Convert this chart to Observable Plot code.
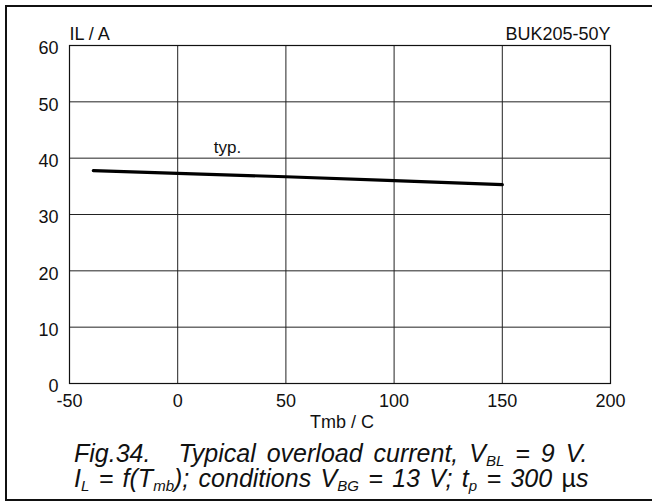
<!DOCTYPE html>
<html><head><meta charset="utf-8">
<script src="https://cdn.jsdelivr.net/npm/d3@7"></script>
<script src="https://cdn.jsdelivr.net/npm/@observablehq/plot@0.6"></script>
<style>
body{margin:0;background:#fff;font-family:"Liberation Sans",Arial,sans-serif;}
#wrap{position:relative;width:652px;height:502px;overflow:hidden;background:#fff;}
#frame{position:absolute;left:5px;top:5px;width:700px;height:492px;border-left:2.5px solid #111;border-top:2.5px solid #111;border-bottom:2.5px solid #111;}
#plot{position:absolute;left:0;top:0;}
.cap{position:absolute;left:74px;font-style:italic;font-size:25px;line-height:24px;white-space:pre;color:#111;}
.cap sub{font-size:0.6em;vertical-align:-0.28em;line-height:0;}
.up{font-style:normal;}
</style>
</head><body>
<div id="wrap">
  <div id="frame"></div>
  <div id="plot"></div>
  <div class="cap" style="top:441px;word-spacing:4px">Fig.34.<span style="display:inline-block;width:28px"></span>Typical overload current, V<sub>BL</sub> = 9 V.</div>
  <div class="cap" style="top:466px;word-spacing:2.4px">I<sub>L</sub> = f(T<sub>mb</sub>); conditions V<sub>BG</sub> = 13 V; t<sub>p</sub> = 300 <span class="up">µ</span>s</div>
</div>
<script>
const temps = [-39, 0, 50, 100, 150];
const currents = [37.8, 37.3, 36.7, 36.0, 35.3];
const xTicks = [-50, 0, 50, 100, 150, 200];
const yTicks = [0, 10, 20, 30, 40, 50, 60];
const yTitle = "IL / A";
const xTitle = "Tmb / C";
const partName = "BUK205-50Y";
const curveLabel = "typ.";

const data = temps.map((t, i) => ({t, i: currents[i]}));
const fmt = d => String(d);

const chart = Plot.plot({
  width: 652,
  height: 440,
  marginLeft: 69,
  marginRight: 42,
  marginTop: 45,
  marginBottom: 57,
  style: {fontFamily: '"Liberation Sans", Arial, sans-serif', fontSize: "18px", color: "#111", background: "transparent"},
  x: {domain: [-50, 200]},
  y: {domain: [0, 60]},
  marks: [
    Plot.gridX(xTicks, {stroke: "#222", strokeOpacity: 1, strokeWidth: 1}),
    Plot.gridY(yTicks, {stroke: "#222", strokeOpacity: 1, strokeWidth: 1}),
    Plot.frame({stroke: "#111", strokeWidth: 1.2}),
    Plot.axisX(xTicks, {tickSize: 0, tickPadding: 11, tickFormat: fmt, label: null, fontSize: 18, fill: "#111"}),
    Plot.axisY(yTicks, {tickSize: 0, tickPadding: 11, tickFormat: fmt, label: null, fontSize: 18, fill: "#111", dy: 3}),
    Plot.line(data, {x: "t", y: "i", stroke: "#000", strokeWidth: 3.2}),
    Plot.text([curveLabel], {x: 23, y: 41.9, text: d => d, fontSize: 17, fill: "#111"}),
    Plot.text([yTitle], {frameAnchor: "top-left", text: d => d, textAnchor: "start", lineAnchor: "middle", dy: -11, fontSize: 18, fill: "#111"}),
    Plot.text([partName], {frameAnchor: "top-right", text: d => d, textAnchor: "end", lineAnchor: "middle", dy: -11, fontSize: 18, fill: "#111"}),
    Plot.text([xTitle], {frameAnchor: "bottom", text: d => d, lineAnchor: "middle", dy: 38.5, dx: 2, fontSize: 18, fill: "#111"})
  ]
});
document.getElementById("plot").appendChild(chart);
</script>
</body></html>
